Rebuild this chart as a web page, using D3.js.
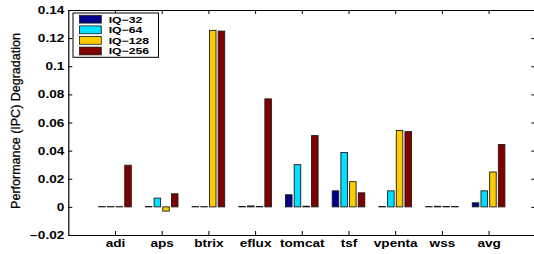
<!DOCTYPE html>
<html>
<head>
<meta charset="utf-8">
<script src="https://cdn.jsdelivr.net/npm/d3@7"></script>
<style>
  html, body { margin: 0; padding: 0; background: #fff; }
  svg { display: block; }
  text { font-family: "Liberation Sans", Arial, Helvetica, sans-serif; }
</style>
</head>
<body>
<script>
const categories = ["adi", "aps", "btrix", "eflux", "tomcat", "tsf", "vpenta", "wss", "avg"];
const seriesNames = ["IQ\u221232", "IQ\u221264", "IQ\u2212128", "IQ\u2212256"];
const seriesColors = ["#00008c", "#00e1ff", "#ffcc00", "#800000"];
const iq32  = [0.0002, 0.0003, 0.0002, 0.0003, 0.0086, 0.0114, 0.0003, 0.0002, 0.0029];
const iq64  = [0.0002, 0.0062, 0.0002, 0.0007, 0.0300, 0.0387, 0.0114, 0.0004, 0.0114];
const iq128 = [0.0002, -0.0030, 0.1255, 0.0003, 0.0005, 0.0179, 0.0543, 0.0003, 0.0248];
const iq256 = [0.0296, 0.0093, 0.1250, 0.0768, 0.0507, 0.0100, 0.0535, 0.0003, 0.0443];
const yTickValues = [-0.02, 0, 0.02, 0.04, 0.06, 0.08, 0.1, 0.12, 0.14];
const yTickLabels = ["\u22120.02", "0", "0.02", "0.04", "0.06", "0.08", "0.1", "0.12", "0.14"];
const yLabel = "Performance (IPC) Degradation";

const series = [iq32, iq64, iq128, iq256];
const W = 534, H = 254;
const STRETCH = 1.36;

const svg = d3.select("body").append("svg").attr("width", W).attr("height", H);

const x = d3.scaleLinear().domain([0, 10]).range([68.3, 535.3]);
const y = d3.scaleLinear().domain([-0.02, 0.14]).range([235, 10]);

const pitch = 0.186;   // in category units
const barW = 0.14;

// bars
series.forEach((vals, si) => {
  svg.append("g").selectAll("rect")
    .data(vals)
    .join("rect")
    .attr("x", (d, i) => x(i + 1 + (si - 1.5) * pitch - barW / 2))
    .attr("width", x(barW) - x(0))
    .attr("y", d => y(Math.max(d, 0)))
    .attr("height", d => Math.abs(y(d) - y(0)))
    .attr("fill", seriesColors[si])
    .attr("stroke", "#1a1a1a")
    .attr("stroke-width", 0.9);
});

const catTicks = categories.map((c, i) => i + 1);

// axes
const gLeft = svg.append("g").attr("transform", `translate(${x(0)},0)`)
  .call(d3.axisLeft(y).tickValues(yTickValues).tickSize(-4).tickSizeOuter(0).tickPadding(4)
    .tickFormat((d, i) => yTickLabels[i]));
gLeft.selectAll("text")
  .attr("x", null).attr("dy", null)
  .attr("transform", "translate(-4,3.6) scale(" + STRETCH + ",1)")
  .style("font-size", "10px").style("font-weight", "bold").attr("fill", "#000");

svg.append("g").attr("transform", `translate(${x(10)},0)`)
  .call(d3.axisRight(y).tickValues(yTickValues).tickSize(-4).tickSizeOuter(0).tickFormat(""));

svg.append("g").attr("transform", `translate(0,${y(0.14)})`)
  .call(d3.axisTop(x).tickValues(catTicks).tickSize(-4).tickSizeOuter(0).tickFormat(""));

const gBottom = svg.append("g").attr("transform", `translate(0,${y(-0.02)})`)
  .call(d3.axisBottom(x).tickValues(catTicks).tickSize(-4).tickSizeOuter(0).tickPadding(5)
    .tickFormat((d, i) => categories[i]));
gBottom.selectAll("text")
  .attr("y", null).attr("dy", null)
  .attr("transform", "translate(0,12.2) scale(" + STRETCH + ",1)")
  .style("font-size", "10px").style("font-weight", "bold").attr("fill", "#000");

svg.selectAll(".domain").attr("stroke", "#000").attr("stroke-width", 1.2);
svg.selectAll(".tick line").attr("stroke", "#000").attr("stroke-width", 1);

// y label
svg.append("text")
  .attr("transform", "translate(19.5,121) rotate(-90)")
  .attr("text-anchor", "middle")
  .style("font-size", "12.5px")
  .attr("fill", "#000")
  .attr("stroke", "#000")
  .attr("stroke-width", 0.25)
  .text(yLabel);

// legend
const lg = svg.append("g");
lg.append("rect").attr("x", 73).attr("y", 13).attr("width", 85.5).attr("height", 44.3)
  .attr("fill", "#fff").attr("stroke", "#000").attr("stroke-width", 1);
seriesNames.forEach((name, i) => {
  const cy = 19.2 + i * 10.6;
  lg.append("rect").attr("x", 79.5).attr("y", cy - 3.9).attr("width", 21.8).attr("height", 7.8)
    .attr("fill", seriesColors[i]).attr("stroke", "#1a1a1a").attr("stroke-width", 0.8);
  lg.append("text")
    .attr("transform", `translate(108.7,${cy + 3.3}) scale(${STRETCH},1)`)
    .style("font-size", "9px").style("font-weight", "bold")
    .attr("fill", "#000")
    .text(name);
});
</script>
</body>
</html>
